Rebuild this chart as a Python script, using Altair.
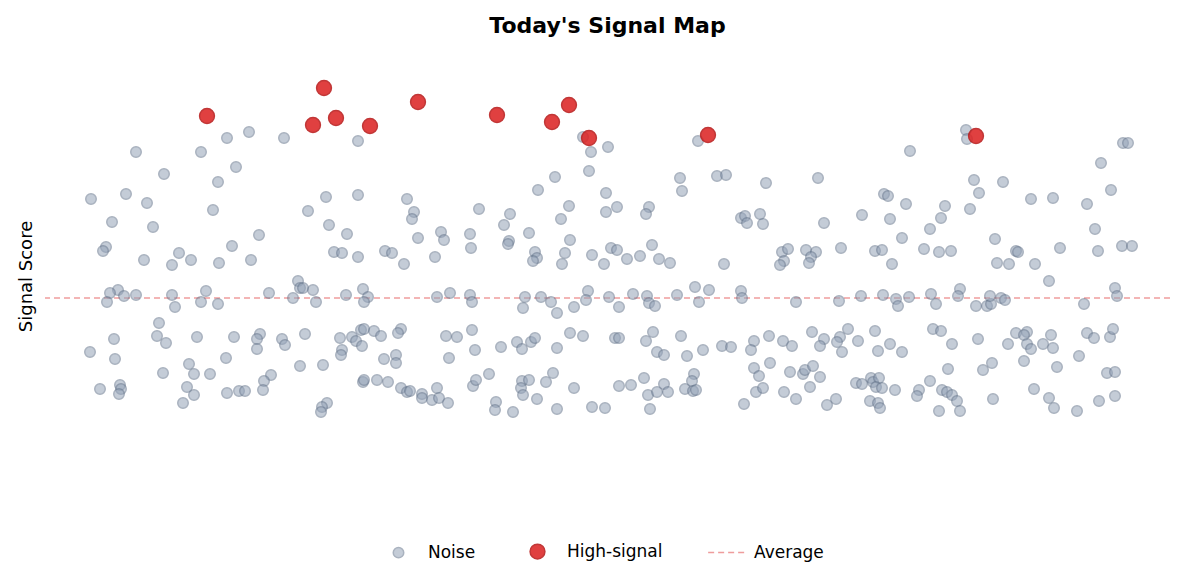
import altair as alt
import pandas as pd

# ---- data ----
noise_x = [
    204, 182, 239, 91, 156, 119, 191, 173, 46, 81, 102, 168, 281, 263, 67, 108, 284, 214, 302, 61, 187,
    58, 99, 134, 127, 146, 174, 206, 289, 73, 65, 62, 79, 91, 127, 130, 161, 156, 173, 224, 253, 255, 258,
    248, 268, 271, 114, 69, 45, 112, 121, 152, 189, 215, 212, 212, 237, 240, 260, 70, 181, 144, 149, 165,
    118, 255, 278, 226, 219, 218, 55, 75, 76, 74, 142, 149, 138, 182, 194, 200, 282, 277, 276,
    313, 538, 546, 563, 544, 510, 493, 561, 572, 313, 362, 369, 367, 434, 465, 459, 524, 516, 561, 373,
    396, 399, 425, 464, 463, 484, 525,
    297, 313, 340, 347, 359, 390, 426, 490, 492, 488, 520, 517, 547, 559, 566, 572, 301, 318, 323, 319,
    392, 405, 425, 427, 480, 478, 496, 506, 512, 529, 543, 541, 564, 574, 295, 307, 311, 316, 319, 317,
    329, 336, 297, 296, 356, 353, 339, 351, 351, 401, 412, 427, 430, 404, 456, 472, 477, 486, 490, 512,
    525, 538, 570, 574, 318, 319, 332, 343, 356, 362, 365, 377, 377, 387, 392, 394, 403, 428, 431, 444,
    451, 450, 468, 477, 484, 476, 478, 492, 501, 508, 529, 512, 547, 560, 574,
    653, 635, 637, 672, 681, 721, 773, 604, 601, 696, 700, 702, 715, 718, 779, 817, 839, 843, 845,
    607, 582, 595, 614, 625, 679, 737, 743, 739, 735, 761, 771, 766, 764, 796, 830, 837, 847,
    588, 602, 604, 610, 632, 650, 654, 664, 696, 697, 751, 794, 816, 838, 601, 608, 636, 612, 619, 642,
    658, 677, 686, 709, 706, 724, 738, 747, 767, 779, 775, 795, 803, 792, 797, 813, 830, 833, 845,
    599, 586, 603, 612, 619, 623, 640, 649, 647, 648, 651, 605, 699, 709, 714, 725, 711, 718, 739, 745,
    751, 758, 760, 768, 765, 775, 782, 791, 811, 817, 826, 828, 834, 831, 837, 825, 833, 835,
    921, 922, 865, 1078, 1083, 1056, 1066, 929, 958, 934, 861, 900, 896, 925, 986, 1008, 1042, 885, 857,
    950, 1050,
    879, 894, 906, 952, 964, 971, 973, 990, 1015, 1004, 1053, 1077, 1087, 851, 853, 864, 886, 891, 915,
    913, 931, 942, 946, 945, 956, 960, 1039, 1070, 1072, 857, 888, 896, 907, 933, 963, 971, 982, 979,
    982, 986, 998, 1006, 1008, 1042, 1049, 1065, 1068, 1034, 979, 947, 938, 903, 1012, 1062, 1070, 850,
    874, 872, 885, 897, 902, 907, 912, 894, 915, 948, 989, 1004, 1009, 1032, 1054, 1070,
]
noise_score = [
    166, 160, 160, 146, 146, 124, 131, 116, 99, 104, 95, 88, 101, 87, 76, 71, 73, 63, 64, 51, 52,
    47, 38, 45, 33, 38, 35, 38, 46, 8, 5, -4, 2, 3, 3, -9, 7, -4, -6, 5, 17, 10, 10,
    0, 8, -4, -25, -41, -54, -38, -45, -39, -39, -36, -41, -51, -41, -47, -36, -61, -60, -66, -76, -76,
    -75, -68, -67, -77, -83, -92, -91, -87, -91, -96, -89, -97, -105, -95, -93, -93, -105, -109, -114,
    157, 161, 146, 151, 127, 121, 108, 105, 91, 103, 99, 86, 79, 89, 84, 73, 92, 79, 86, 60,
    66, 58, 64, 57, 54, 65, 58,
    45, 41, 47, 45, 34, 41, 50, 46, 40, 37, 45, 34, 43, 34, 50, 48, 3, 9, 1, -4,
    1, 5, 3, -4, 1, -10, 1, -4, -15, -9, 7, -2, 1, -9, -40, -39, -43, -32, -31, -48,
    -33, -38, -52, -57, -31, -35, -61, -57, -65, -38, -39, -32, -52, -60, -49, -44, -51, -44, -40, -50,
    -35, -38, -40, -40, -84, -82, -82, -84, -90, -94, -93, -96, -100, -102, -90, -100, -105, -88, -82, -76,
    -104, -112, -114, -83, -82, -90, -97, -101, -84, -75, -90, -111, -109, -110, -88,
    157, 120, 107, 122, 123, 115, 120, 91, 84, 80, 82, 75, 84, 74, 75, 83, 104, 102, 79,
    53, 39, 42, 39, 35, 34, 46, 49, 37, 33, 48, 46, 41, 35, 50, 47, 48, 34,
    4, 2, -5, -8, 3, 11, -4, 8, 7, 0, -4, -3, 2, 3, -43, -34, -38, -54, -57, -58,
    -52, -48, -49, -43, -52, -38, -43, -48, -34, -41, -48, -39, -31, -44, -54, -43, -33, -53, -46,
    -80, -87, -97, -94, -86, -94, -91, -76, -83, -93, -92, -111, -106, -70, -78, -65, -94, -90, -94, -74,
    -101, -76, -72, -68, -89, -79, -107, -101, -85, -86, -80, -84, -80, -89, -90, -103, -105, -110,
    168, 159, 147, 155, 155, 135, 108, 118, 116, 105, 94, 92, 80, 89, 99, 100, 94, 69, 60,
    59, 69,
    49, 46, 47, 35, 34, 47, 46, 34, 50, 17, 47, 52, 52, -1, -8, 1, 4, -6, 9,
    2, -8, -8, -6, 2, 0, -2, -6, 10, 2, -54, -31, -33, -46, -41, -46, -35, -34, -37,
    -46, -51, -46, -37, -50, -35, -40, -39, -31, -58, -63, -65, -72, -71, -69, -75, -74, -92,
    -92, -98, -83, -92, -94, -97, -103, -113, -113, -101, -91, -100, -110, -113, -103, -98,
]
signal_x = [162, 279, 268, 291, 325, 373, 452, 507, 524, 544, 663, 931]
signal_score = [182, 210, 173, 180, 172, 196, 183, 176, 193, 160, 163, 162]
average_score = 0

categories = ["Noise", "High-signal"]
fill_colors = ["#94a3b8", "#dc2626"]
edge_colors = ["#64748b", "#b91c1c"]

n = min(len(noise_x), len(noise_score))
df = pd.DataFrame({
    "pos": noise_x[:n] + signal_x,
    "score": noise_score[:n] + signal_score,
    "type": ["Noise"] * n + ["High-signal"] * len(signal_x),
})
avg_df = pd.DataFrame({"score": [average_score], "label": ["Average"]})

xs = alt.Scale(domain=[0, 1125], nice=False, zero=False)
ys = alt.Scale(domain=[-209, 253], nice=False, zero=False)

rule = alt.Chart(avg_df).mark_rule(color="#dc2626", opacity=0.45, strokeWidth=1.5).encode(
    y=alt.Y("score:Q", scale=ys),
    strokeDash=alt.StrokeDash(
        "label:N",
        scale=alt.Scale(domain=["Average"], range=[[6, 4]]),
        legend=alt.Legend(
            title=None, orient="none", legendX=662, legendY=487, direction="horizontal",
            symbolType="stroke", symbolSize=1500, symbolStrokeColor="#dc2626",
            symbolOpacity=0.45, symbolStrokeWidth=1.5,
            labelFont="DejaVu Sans", labelFontSize=17, labelColor="#000000", labelOffset=6,
        ),
    ),
)

pt_legend = alt.Legend(
    title=None, orient="none", legendX=345, legendY=498,
    direction="horizontal", labelFont="DejaVu Sans", labelFontSize=17,
    labelColor="#000000", labelOffset=21, columnPadding=51, symbolStrokeWidth=1.5)

points = alt.Chart(df).mark_circle(strokeWidth=1.5).encode(
    x=alt.X("pos:Q", scale=xs, axis=None),
    y=alt.Y("score:Q", scale=ys, axis=alt.Axis(
        title="Signal Score", labels=False, ticks=False, domain=False, grid=False,
        titleFont="DejaVu Sans", titleFontSize=18, titleFontWeight="normal",
        titleColor="#000000", titlePadding=10)),
    color=alt.Color("type:N", scale=alt.Scale(domain=categories, range=fill_colors), legend=pt_legend),
    stroke=alt.Stroke("type:N", scale=alt.Scale(domain=categories, range=edge_colors), legend=pt_legend),
    size=alt.Size("type:N", scale=alt.Scale(domain=categories, range=[110, 220]), legend=pt_legend),
    opacity=alt.Opacity("type:N", scale=alt.Scale(domain=categories, range=[0.55, 0.88]),
                        legend=pt_legend),
    order=alt.Order("order:Q"),
).transform_calculate(order="datum.type == 'Noise' ? 0 : 1")

chart = alt.layer(rule, points).properties(
    width=1125, height=462,
    padding={"left": 37, "top": 37, "right": 7, "bottom": 69},
    autosize=alt.AutoSizeParams(type="none"),
    title=alt.Title("Today's Signal Map", font="DejaVu Sans", fontSize=22, fontWeight="bold",
                    color="#000000", offset=7, anchor="middle"),
).configure_view(stroke=None)

chart.save("out.html", embed_options={"renderer": "svg", "actions": False})
